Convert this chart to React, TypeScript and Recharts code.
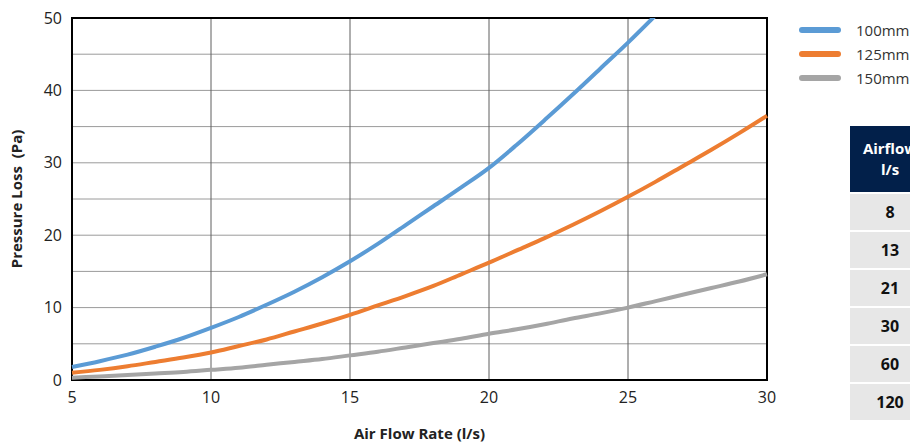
import React from 'react';
import {
  LineChart,
  Line,
  XAxis,
  YAxis,
  CartesianGrid,
  ReferenceArea,
} from 'recharts';

// pressure loss (Pa), per air flow rate (l/s)
const flow = [5, 6, 7, 8, 9, 10, 11, 12, 13, 14, 15, 16, 17, 18, 19, 20, 21, 22, 23, 24, 25, 26, 27, 28, 29, 30];
const duct100 = [1.8, 2.6, 3.5, 4.6, 5.8, 7.2, 8.7, 10.4, 12.2, 14.2, 16.4, 18.8, 21.4, 24.0, 26.6, 29.3, 32.5, 35.9, 39.4, 43, 46.6, 50.4, null, null, null, null];
const duct125 = [1.0, 1.4, 1.9, 2.5, 3.1, 3.8, 4.7, 5.6, 6.7, 7.8, 9.0, 10.3, 11.6, 13.0, 14.6, 16.2, 17.9, 19.6, 21.4, 23.3, 25.3, 27.4, 29.6, 31.8, 34.1, 36.5];
const duct150 = [0.3, 0.5, 0.7, 0.9, 1.1, 1.4, 1.7, 2.1, 2.5, 2.9, 3.4, 3.9, 4.5, 5.1, 5.7, 6.4, 7.0, 7.7, 8.5, 9.2, 10.0, 10.9, 11.8, 12.7, 13.6, 14.6];

const xTicks = [5, 10, 15, 20, 25, 30];
const yTicks = [0, 5, 10, 15, 20, 25, 30, 35, 40, 45, 50];

const series = [
  { key: 'd100', name: '100mm', color: '#5b9bd5' },
  { key: 'd125', name: '125mm', color: '#ed7d31' },
  { key: 'd150', name: '150mm', color: '#a5a5a5' },
];

const airflowRows = [8, 13, 21, 30, 60, 120];

const data = flow.map((x, i) => ({
  x,
  d100: duct100[i],
  d125: duct125[i],
  d150: duct150[i],
}));

const font = '"Open Sans", sans-serif';

export default function App() {
  return (
    <div
      style={{
        position: 'absolute',
        left: 0,
        top: 0,
        width: 910,
        height: 444,
        overflow: 'hidden',
        background: '#fff',
      }}
    >
      <LineChart
        width={910}
        height={444}
        data={data}
        margin={{ top: 18, right: 143, left: 0, bottom: 0 }}
      >
        <CartesianGrid vertical={false} stroke="#9a9a9a" strokeWidth={1} />
        <CartesianGrid horizontal={false} stroke="#5f5f5f" strokeWidth={1} />
        <XAxis
          dataKey="x"
          type="number"
          domain={[5, 30]}
          ticks={xTicks}
          height={64}
          tickSize={0}
          tickMargin={12}
          axisLine={false}
          tick={{ fontSize: 16, fill: '#222', fontFamily: font }}
          label={{
            value: 'Air Flow Rate (l/s)',
            position: 'insideBottom',
            offset: 5,
            style: { fontSize: 15, fontWeight: 700, fill: '#222', fontFamily: font },
          }}
        />
        <YAxis
          type="number"
          domain={[0, 50]}
          ticks={yTicks}
          allowDataOverflow
          width={72}
          tickSize={0}
          tickMargin={10}
          axisLine={false}
          interval={0}
          tickFormatter={(v) => (v % 10 === 0 ? String(v) : '')}
          tick={{ fontSize: 16, fill: '#222', fontFamily: font }}
          label={{
            value: 'Pressure Loss\u00a0 (Pa)',
            angle: -90,
            position: 'insideLeft',
            offset: 17,
            style: { textAnchor: 'middle', fontSize: 15, fontWeight: 700, fill: '#222', fontFamily: font },
          }}
        />
        <ReferenceArea x1={5} x2={30} y1={0} y2={50} fill="none" stroke="#000" strokeWidth={2} />
        {series.map((s) => (
          <Line
            key={s.key}
            type="monotone"
            dataKey={s.key}
            name={s.name}
            stroke={s.color}
            strokeWidth={4}
            dot={false}
            activeDot={false}
            isAnimationActive={false}
          />
        ))}
      </LineChart>

      <div style={{ position: 'absolute', left: 799, top: 18, fontFamily: font }}>
        {series.map((s) => (
          <div key={s.key} style={{ display: 'flex', alignItems: 'center', height: 24 }}>
            <div style={{ width: 42, height: 6, borderRadius: 3, background: s.color, marginRight: 15 }} />
            <span style={{ fontSize: 15, color: '#333', whiteSpace: 'nowrap' }}>{s.name}</span>
          </div>
        ))}
      </div>

      <table
        style={{
          position: 'absolute',
          left: 850,
          top: 126,
          width: 80,
          borderCollapse: 'separate',
          borderSpacing: 0,
          fontFamily: font,
          fontWeight: 700,
          textAlign: 'center',
        }}
      >
        <thead>
          <tr>
            <th
              style={{
                background: '#02204a',
                color: '#fff',
                fontSize: 15,
                lineHeight: '21px',
                height: 66,
                padding: 0,
                whiteSpace: 'nowrap',
              }}
            >
              Airflow
              <br />
              l/s
            </th>
          </tr>
        </thead>
        <tbody>
          {airflowRows.map((r) => (
            <tr key={r}>
              <td
                style={{
                  background: '#e7e7e7',
                  color: '#111',
                  fontSize: 16,
                  height: 36,
                  padding: 0,
                  borderTop: '2px solid #fff',
                }}
              >
                {r}
              </td>
            </tr>
          ))}
        </tbody>
      </table>
    </div>
  );
}
